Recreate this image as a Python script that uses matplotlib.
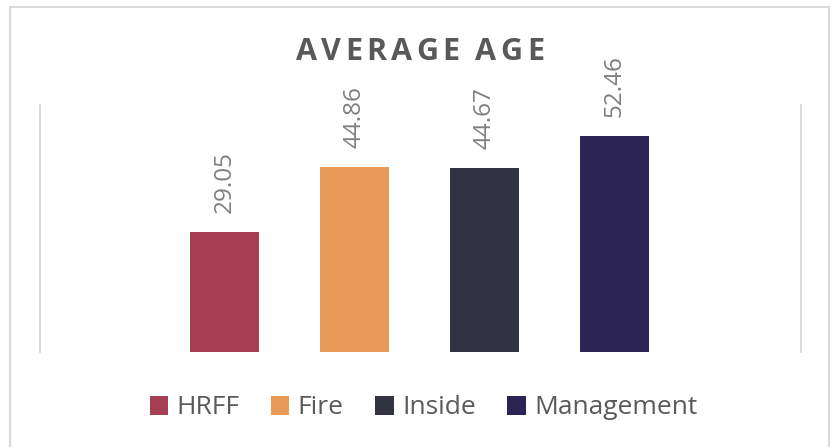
import matplotlib.pyplot as plt
from matplotlib.patches import Rectangle, Patch

# data
groups = ["HRFF", "Fire", "Inside", "Management"]
ages = [29.05, 44.86, 44.67, 52.46]
colors = ["#A63F52", "#E99A56", "#323441", "#2D2456"]

plt.rcParams['font.family'] = ['Open Sans', 'DejaVu Sans']

fig = plt.figure(figsize=(8.37, 4.47), dpi=100)
ax = fig.add_axes([40/837, 1-352/447, 761/837, 247/447])

xs = list(range(len(groups)))
bars = ax.bar(xs, ages, width=0.53, color=colors)
for b, v in zip(bars, ages):
    ax.annotate(f"{v:.2f}", (b.get_x() + b.get_width()/2, v),
                xytext=(0, 14), textcoords="offset points",
                rotation=90, ha="center", va="bottom",
                fontsize=17.5, color="#7F7F7F")

ax.set_ylim(0, 60)
ax.set_xlim(-1.423, 4.435)
ax.set_xticks([])
ax.set_yticks([])
for s in ["top", "bottom"]:
    ax.spines[s].set_visible(False)
for s in ["left", "right"]:
    ax.spines[s].set_color("#D9D9D9")
    ax.spines[s].set_linewidth(1.3)

# outer chart border
fig.patches.append(Rectangle((10/837, -0.02), 819/837, 1.02 - 7/447,
                             transform=fig.transFigure, fill=False,
                             edgecolor="#D9D9D9", linewidth=1.5))

# title with letter spacing, drawn char by char to fill the target width
title = "AVERAGE AGE"
target_w = 248.0  # px
fig.canvas.draw()
r = fig.canvas.get_renderer()
widths = []
for ch in title:
    t = fig.text(0, 0, ch if ch != " " else "A", fontsize=22, fontweight="bold")
    w = t.get_window_extent(renderer=r).width
    t.remove()
    widths.append(w if ch != " " else w * 0.38)
spacing = (target_w - sum(widths)) / (len(title) - 1)
x = 420 - target_w / 2
for ch, w in zip(title, widths):
    if ch != " ":
        fig.text(x / 837, 1 - 52/447, ch, fontsize=22, fontweight="bold",
                 color="#595959", ha="left", va="center")
    x += w + spacing

handles = [Patch(facecolor=c, edgecolor="none") for c in colors]
fig.legend(handles, groups, loc="center", bbox_to_anchor=(423.5/837, 1 - 408/447),
           ncol=4, frameon=False, fontsize=19, labelcolor="#595959",
           handlelength=0.7, handleheight=0.7, handletextpad=0.31,
           columnspacing=1.2)

fig.savefig("out.png", dpi=100)
